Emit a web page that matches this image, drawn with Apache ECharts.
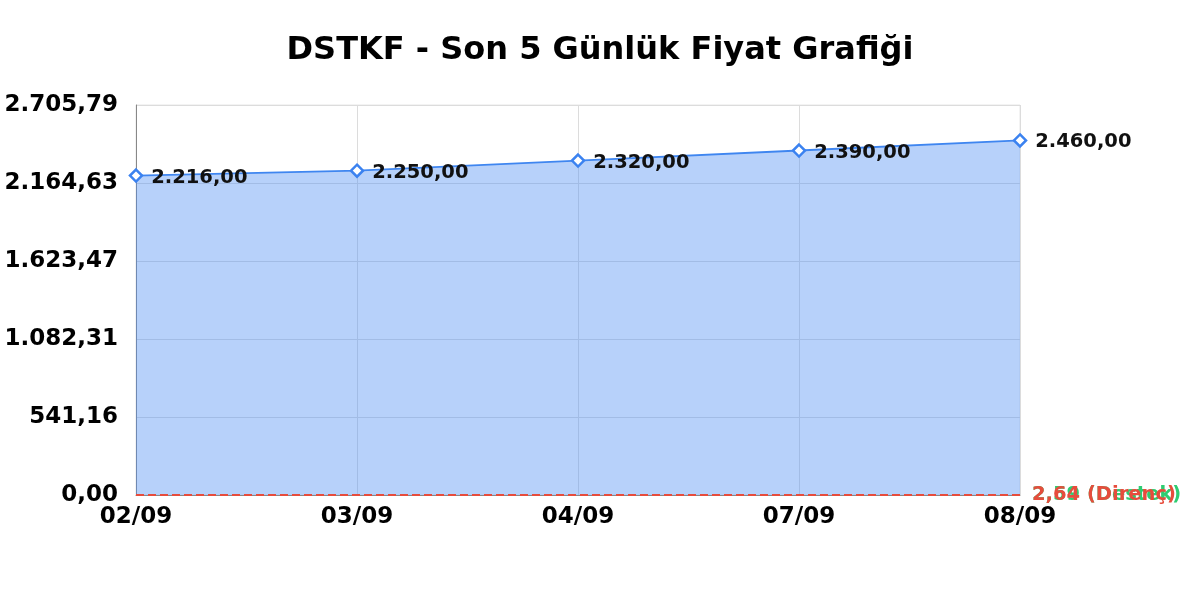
<!DOCTYPE html>
<html><head><meta charset="utf-8">
<script src="https://cdn.jsdelivr.net/npm/echarts@6/dist/echarts.min.js"></script>
<style>html,body{margin:0;padding:0;background:#fff}#c{width:1200px;height:600px}</style>
</head><body><div id="c"></div>
<script>
const titleText = 'DSTKF - Son 5 Günlük Fiyat Grafiği';
const categories = ['02/09','03/09','04/09','07/09','08/09'];
const prices = [2216.00, 2250.00, 2320.00, 2390.00, 2460.00];
const resistance = 2.64;
const support = 2.59;
const yMax = 2705.787;
const yInterval = yMax / 5;

function trNum(v){
  return Number(v).toLocaleString('de-DE',{minimumFractionDigits:2,maximumFractionDigits:2});
}
const chart = echarts.init(document.getElementById('c'));
const font = 'DejaVu Sans';
chart.setOption({
  animation:false,
  title:{text:titleText,left:'center',top:30,textStyle:{fontFamily:font,fontSize:32,fontWeight:'bold',color:'#000'}},
  grid:{left:136,right:180,top:105,bottom:105,show:true,borderColor:'#e6e6e6',borderWidth:1},
  xAxis:{type:'category',data:categories,boundaryGap:false,
    axisLine:{show:true,lineStyle:{color:'#888'}},axisTick:{show:false},
    splitLine:{show:true,lineStyle:{color:'#dcdcdc'}},
    axisLabel:{fontFamily:font,fontSize:23,fontWeight:'bold',color:'#000',margin:11}},
  yAxis:{type:'value',min:0,max:yMax,interval:yInterval,
    axisLine:{show:true,lineStyle:{color:'#888'}},axisTick:{show:false},
    splitLine:{show:true,lineStyle:{color:'#dcdcdc'}},
    axisLabel:{fontFamily:font,fontSize:23,fontWeight:'bold',color:'#000',margin:18,formatter:v=>trNum(v)}},
  series:[{
    type:'line',data:prices,
    symbol:'diamond',symbolSize:12,
    itemStyle:{color:'#fff',borderColor:'#3b82f0',borderWidth:2.5},
    lineStyle:{color:'#3f86f0',width:1.8},
    areaStyle:{color:'rgba(74,140,242,0.4)',opacity:1},
    label:{show:true,position:'right',distance:8,offset:[0,2],fontFamily:font,fontSize:19.5,fontWeight:'bold',color:'#111',formatter:p=>trNum(p.value)},
    markLine:{silent:true,symbol:'none',
      data:[
        {yAxis:support,lineStyle:{color:'#2ecc71',type:'dashed',width:2},label:{position:'end',formatter:trNum(support)+' (Destek)',color:'#2ecc71',fontFamily:font,fontSize:19.5,fontWeight:'bold',distance:12}},
        {yAxis:resistance,lineStyle:{color:'#e74c3c',type:'dashed',width:2},label:{position:'end',formatter:trNum(resistance)+' (Direnç)',color:'#e74c3c',fontFamily:font,fontSize:19.5,fontWeight:'bold',distance:12}}
      ]}
  }]
});
</script></body></html>
